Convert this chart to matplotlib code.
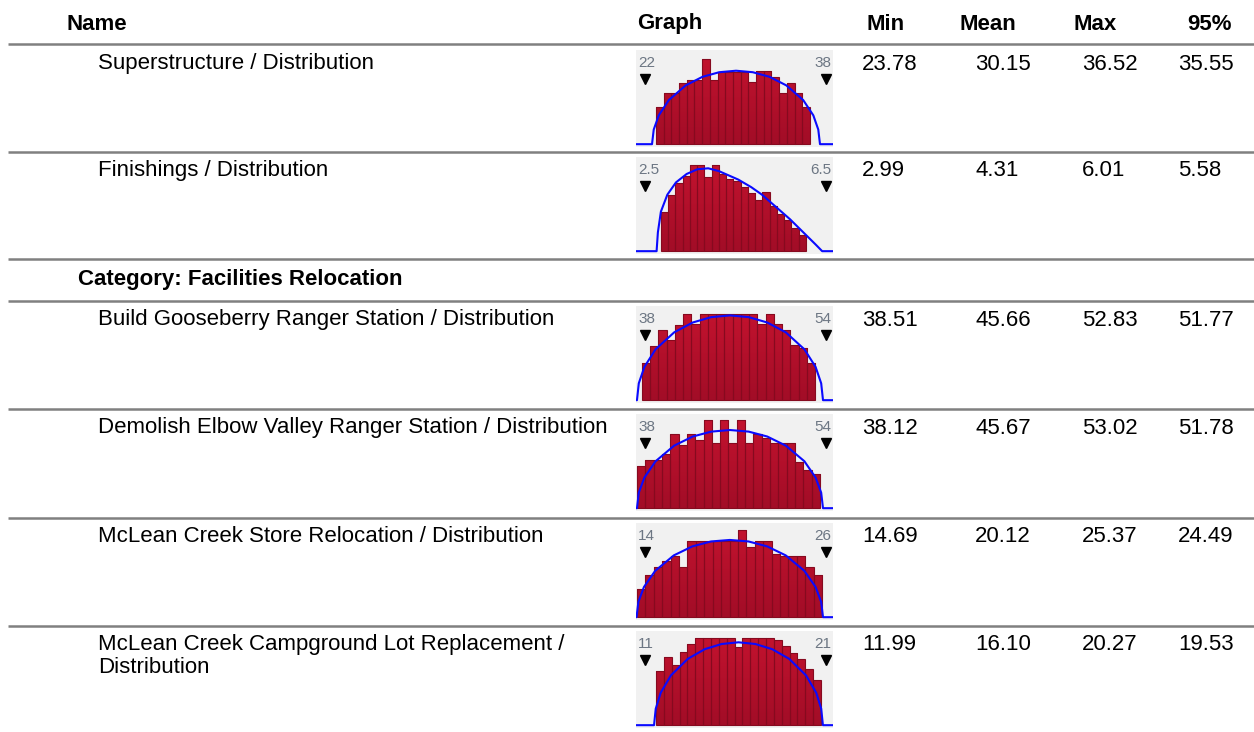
import matplotlib
matplotlib.use("Agg")
import matplotlib.pyplot as plt
import numpy as np
from matplotlib.colors import LinearSegmentedColormap

plt.rcParams['font.family'] = ['Liberation Sans', 'DejaVu Sans']

# ---------------- data ----------------
headers = ["Name", "Graph", "Min", "Mean", "Max", "95%"]
category = "Category: Facilities Relocation"
names = [
    "Superstructure / Distribution",
    "Finishings / Distribution",
    "Build Gooseberry Ranger Station / Distribution",
    "Demolish Elbow Valley Ranger Station / Distribution",
    "McLean Creek Store Relocation / Distribution",
    "McLean Creek Campground Lot Replacement /\nDistribution",
]
mins = [23.78, 2.99, 38.51, 38.12, 14.69, 11.99]
means = [30.15, 4.31, 45.66, 45.67, 20.12, 16.10]
maxs = [36.52, 6.01, 52.83, 53.02, 25.37, 20.27]
p95 = [35.55, 5.58, 51.77, 51.78, 24.49, 19.53]

lo_labels = ["22", "2.5", "38", "38", "14", "11"]
hi_labels = ["38", "6.5", "54", "54", "26", "21"]
x_lo = [20.88, 2.221, 36.88, 36.88, 13.163, 10.302]
x_hi = [39.21, 6.802, 55.21, 55.21, 26.907, 21.756]
bar_start = [22.74, 2.802, 37.44, 36.97, 13.233, 11.465]
bar_width = [0.7165, 0.1686, 0.7667, 0.774, 0.5867, 0.457]

g1_h = [.40, .54, .54, .65, .68, .68, .90, .68, .77, .77, .77, .77, .66, .78, .78, .71, .54, .65, .54, .40]
g2_h = [.42, .60, .72, .80, .92, .92, .79, .92, .82, .77, .74, .68, .62, .54, .63, .48, .40, .33, .25, .17]
g3_h = [.40, .58, .74, .64, .80, .92, .81, .91, .91, .91, .91, .91, .91, .91, .81, .92, .81, .74, .59, .55, .40]
g4_h = [.45, .51, .51, .58, .79, .67, .79, .72, .94, .69, .94, .69, .94, .69, .79, .74, .69, .69, .69, .49, .41, .36]
g5_h = [.30, .45, .53, .60, .65, .53, .81, .81, .81, .81, .81, .81, .93, .75, .81, .81, .67, .65, .65, .65, .53, .45]
g6_h = [.58, .72, .64, .78, .86, .93, .93, .93, .93, .93, .83, .93, .93, .93, .93, .90, .84, .77, .70, .60, .48]

g1_cx = [20.88, 22.37, 22.53, 23.00, 23.93, 25.50, 27.06, 28.62, 30.19, 31.75, 33.31, 34.87, 36.44, 37.38, 37.84, 38.00, 39.21]
g1_cy = [0, 0, .155, .306, .468, .624, .715, .764, .78, .764, .715, .624, .468, .306, .155, 0, 0]
g2_cx = [2.221, 2.70, 2.73, 2.80, 2.95, 3.15, 3.40, 3.65, 3.90, 4.15, 4.40, 4.60, 4.90, 5.15, 5.40, 5.60, 5.80, 6.00, 6.20, 6.40, 6.55, 6.802]
g2_cy = [0, 0, .20, .42, .60, .73, .82, .87, .88, .85, .80, .76, .68, .60, .50, .42, .34, .25, .16, .07, 0, 0]
g3_cx = [36.88, 36.97, 37.14, 37.66, 38.70, 40.43, 42.16, 43.89, 45.63, 47.36, 49.09, 50.82, 52.55, 53.59, 54.11, 54.28, 55.21]
g3_cy = [0, 0, .179, .353, .540, .720, .825, .882, .90, .882, .825, .720, .540, .353, .179, 0, 0]
g4_cx = [36.88, 36.97, 37.14, 37.66, 38.70, 40.43, 42.16, 43.89, 45.63, 47.36, 49.09, 50.82, 52.55, 53.59, 54.11, 54.28, 55.21]
g4_cy = [0, 0, .165, .325, .498, .664, .761, .813, .83, .813, .761, .664, .498, .325, .165, 0, 0]
g5_cx = [13.163, 13.20, 13.33, 13.72, 14.50, 15.80, 17.10, 18.40, 19.71, 21.01, 22.31, 23.61, 24.91, 25.69, 26.08, 26.21, 26.907]
g5_cy = [0, 0, .163, .321, .492, .656, .752, .804, .82, .804, .752, .656, .492, .321, .163, 0, 0]
g6_cx = [10.302, 11.35, 11.45, 11.74, 12.33, 13.31, 14.30, 15.28, 16.26, 17.24, 18.22, 19.21, 20.19, 20.78, 21.07, 21.17, 21.756]
g6_cy = [0, 0, .175, .345, .528, .704, .807, .862, .88, .862, .807, .704, .528, .345, .175, 0, 0]

heights = [g1_h, g2_h, g3_h, g4_h, g5_h, g6_h]
curves_x = [g1_cx, g2_cx, g3_cx, g4_cx, g5_cx, g6_cx]
curves_y = [g1_cy, g2_cy, g3_cy, g4_cy, g5_cy, g6_cy]

# ---------------- layout ----------------
W, H = 1254, 732
fig = plt.figure(figsize=(W / 100, H / 100), dpi=100)
ax = fig.add_axes([0, 0, 1, 1])
ax.set_xlim(0, W)
ax.set_ylim(H, 0)
ax.axis('off')

FS = 16
header_x = [66, 637, 886, 988, 1095, 1210]
header_ha = ['left', 'left', 'center', 'center', 'center', 'center']
for t, x, ha in zip(headers, header_x, header_ha):
    ax.text(x, 24, t, fontsize=FS, fontweight='bold', ha=ha, va='center', color='black')

sep_y = [44, 152, 259, 301, 409, 518, 626]
for y in sep_y:
    ax.plot([8, W], [y, y], color='#808080', lw=1.8, solid_capstyle='butt')

ax.text(78, 280, category, fontsize=FS, fontweight='bold', ha='left', va='center')

row_text_y = [64, 171, 320, 428, 537, 645]
box_top = [50, 157, 306, 414, 523, 631]
val_x = [862, 975, 1082, 1178]
BOX_L, BOX_W, BOX_H = 636, 197, 97

bar_cmap = LinearSegmentedColormap.from_list('bar', ['#a20d27', '#c5132f'])
grad = np.linspace(0, 1, 64).reshape(-1, 1)

for i in range(len(names)):
    ty = row_text_y[i]
    ax.text(98, ty - 11, names[i], fontsize=FS, ha='left', va='top', linespacing=1.12)
    for x, v in zip(val_x, [mins[i], means[i], maxs[i], p95[i]]):
        ax.text(x, ty, f"{v:.2f}", fontsize=FS, ha='left', va='center')

    # mini distribution graph
    top = box_top[i]
    g = fig.add_axes([BOX_L / W, 1 - (top + BOX_H) / H, BOX_W / W, BOX_H / H])
    g.set_facecolor('#f1f1f1')
    for s in g.spines.values():
        s.set_visible(False)
    g.set_xticks([])
    g.set_yticks([])
    hs = heights[i]
    xs = [bar_start[i] + k * bar_width[i] for k in range(len(hs))]
    bars = g.bar(xs, hs, width=bar_width[i], align='edge', color='#b5102c',
                 linewidth=0, zorder=2)
    for p in bars.patches:
        x0 = p.get_x()
        im = g.imshow(grad, extent=[x0, x0 + p.get_width(), 0, 1], origin='lower',
                      aspect='auto', cmap=bar_cmap, zorder=2.2, interpolation='bilinear')
        im.set_clip_path(p)
    # darker bar outlines on top of the gradient fill
    g.bar(xs, hs, width=bar_width[i], align='edge', facecolor='none',
          edgecolor='#860a1f', linewidth=0.8, zorder=2.5)
    g.plot(curves_x[i], curves_y[i], color='#0a0aff', lw=1.5, zorder=3,
           solid_joinstyle='round')
    g.set_xlim(x_lo[i], x_hi[i])
    g.set_ylim(-0.03, 1.0)
    g.text(2 / BOX_W, 0.87, lo_labels[i], transform=g.transAxes, fontsize=11,
           color='#6c7683', ha='left', va='center')
    g.text(195 / BOX_W, 0.87, hi_labels[i], transform=g.transAxes, fontsize=11,
           color='#6c7683', ha='right', va='center')
    g.plot([9 / BOX_W, 190 / BOX_W], [0.70, 0.70], linestyle='none', marker='v',
           markersize=7, color='black', transform=g.transAxes, zorder=4)

fig.savefig('out.png', dpi=100)
